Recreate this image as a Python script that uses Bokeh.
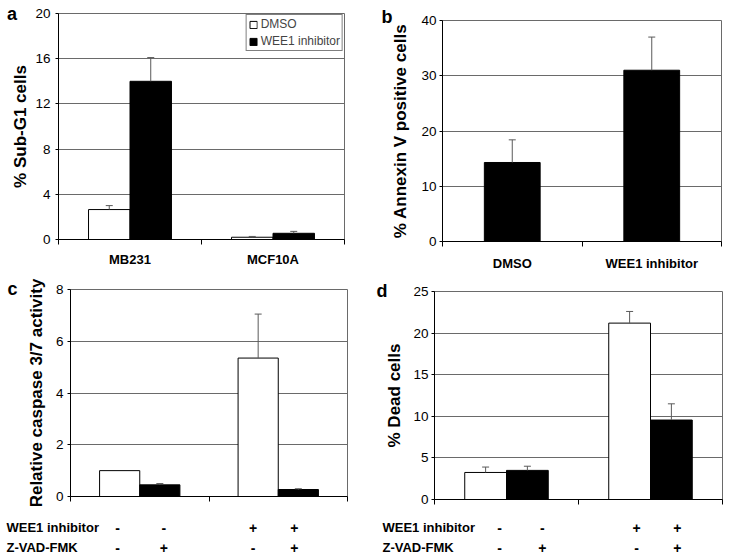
from bokeh.plotting import figure
from bokeh.layouts import column, row
from bokeh.models import FixedTicker, Label, Range1d, Spacer
from bokeh.core.properties import value
from bokeh.embed import file_html
from bokeh.resources import INLINE

# ---------------- data ----------------
a_groups = ["MB231", "MCF10A"]
a_dmso = [2.65, 0.2]
a_dmso_err = [0.35, 0.07]
a_wee1 = [14.0, 0.55]
a_wee1_err = [2.1, 0.17]
a_yticks = [0, 4, 8, 12, 16, 20]

b_groups = ["DMSO", "WEE1 inhibitor"]
b_vals = [14.3, 31.0]
b_err = [4.1, 6.0]
b_yticks = [0, 10, 20, 30, 40]

c_white = [1.0, 5.35]
c_white_err = [0.0, 1.7]
c_black = [0.45, 0.27]
c_black_err = [0.05, 0.03]
c_yticks = [0, 2, 4, 6, 8]

d_white = [3.25, 21.2]
d_white_err = [0.65, 1.4]
d_black = [3.5, 9.55]
d_black_err = [0.5, 1.95]
d_yticks = [0, 5, 10, 15, 20, 25]

row_titles = ["WEE1 inhibitor", "Z-VAD-FMK"]
wee1_signs = ["-", "-", "+", "+"]
zvad_signs = ["-", "+", "-", "+"]

FONT = "Liberation Sans"
GRID = "#6a6a6a"
ERR = "#5a5a5a"


def base_fig(w, h, bl, br, bt, bb, yticks, ylabel, lab_standoff, ax_standoff):
    p = figure(width=w, height=h, output_backend="svg", toolbar_location=None,
               title=None,
               x_range=Range1d(0, 2), y_range=Range1d(0, yticks[-1]),
               min_border_left=bl, min_border_right=br,
               min_border_top=bt, min_border_bottom=bb,
               background_fill_color="white", border_fill_color="white")
    p.outline_line_color = GRID
    p.outline_line_width = 1
    p.xgrid.visible = False
    p.ygrid.ticker = FixedTicker(ticks=yticks)
    p.ygrid.grid_line_color = GRID
    ya = p.yaxis[0]
    ya.ticker = FixedTicker(ticks=yticks, minor_ticks=[])
    ya.axis_line_color = "black"
    ya.major_tick_line_color = "black"
    ya.major_tick_out = 3
    ya.major_tick_in = 0
    ya.minor_tick_out = 0
    ya.minor_tick_in = 0
    ya.major_label_text_font = FONT
    ya.major_label_text_font_size = "13.5px"
    ya.major_label_text_color = "black"
    ya.major_label_standoff = lab_standoff
    ya.axis_label = ylabel
    ya.axis_label_text_font = FONT
    ya.axis_label_text_font_size = "17px"
    ya.axis_label_text_font_style = "bold"
    ya.axis_label_text_color = "black"
    ya.axis_label_standoff = ax_standoff
    xa = p.xaxis[0]
    xa.axis_line_color = "black"
    xa.major_tick_out = 0
    xa.major_tick_in = 0
    xa.minor_tick_out = 5
    xa.minor_tick_in = 0
    xa.minor_tick_line_color = "black"
    xa.major_label_text_font = FONT
    xa.major_label_text_font_size = "13px"
    xa.major_label_text_font_style = "bold"
    xa.major_label_text_color = "black"
    return p


def err_bars(p, xs, vals, errs, cap=7):
    tops = [v + e for v, e in zip(vals, errs)]
    xs2 = [x for x, e in zip(xs, errs) if e > 0]
    v2 = [v for v, e in zip(vals, errs) if e > 0]
    t2 = [t for t, e in zip(tops, errs) if e > 0]
    p.segment(x0=xs2, y0=v2, x1=xs2, y1=t2, line_color=ERR, line_width=1)
    p.scatter(x=xs2, y=t2, marker="dash", size=cap, line_color=ERR, line_width=1)


def letter(p, txt, x, y, side="left", align="left"):
    p.add_layout(Label(x=x, y=y, x_units="screen", y_units="screen", text=txt,
                       text_font=FONT, text_font_size="18px", text_font_style="bold",
                       text_align=align, text_baseline="middle", text_color="black"),
                 side)


BW = 0.29
centers = [0.5, 1.5]
left_x = [c - BW / 2 for c in centers]
right_x = [c + BW / 2 for c in centers]

# ---------------- panel a ----------------
pa = base_fig(365, 270, 58, 21, 13, 31, a_yticks, "% Sub-G1 cells", 5, 2)
pa.xaxis[0].ticker = FixedTicker(ticks=centers, minor_ticks=[0, 1, 2])
pa.xaxis[0].major_label_overrides = {0.5: a_groups[0], 1.5: a_groups[1]}
pa.xaxis[0].major_label_standoff = 7
pa.vbar(x=left_x, top=a_dmso, width=BW, fill_color="white", line_color="black",
        line_width=1, legend_label="DMSO")
pa.vbar(x=right_x, top=a_wee1, width=BW, fill_color="black", line_color="black",
        line_width=1, legend_label="WEE1 inhibitor")
err_bars(pa, left_x, a_dmso, a_dmso_err)
err_bars(pa, right_x, a_wee1, a_wee1_err)
lg = pa.legend[0]
lg.location = "top_right"
lg.margin = 1
lg.padding = 2
lg.spacing = 3
lg.label_height = 14
lg.glyph_width = 9
lg.glyph_height = 9
lg.label_standoff = 3
lg.label_text_font = FONT
lg.label_text_font_size = "12px"
lg.border_line_color = "black"
lg.border_line_width = 1
lg.background_fill_alpha = 1
letter(pa, "a", -332.5, 226, side="right", align="center")

# ---------------- panel b ----------------
pb = base_fig(364, 266, 77, 8, 13, 31, b_yticks, "% Annexin V positive cells", 3, 8)
pb.xaxis[0].ticker = FixedTicker(ticks=centers, minor_ticks=[0, 1, 2])
pb.xaxis[0].major_label_overrides = {0.5: b_groups[0], 1.5: b_groups[1]}
pb.xaxis[0].major_label_standoff = 9
pb.vbar(x=centers, top=b_vals, width=0.4, fill_color="black", line_color="black")
err_bars(pb, centers, b_vals, b_err)
letter(pb, "b", 4, 225)

# ---------------- panel c ----------------
C_W, C_H, C_BL, C_BR = 365, 241, 70, 18
pc = base_fig(C_W, C_H, C_BL, C_BR, 16, 18, c_yticks, "Relative caspase 3/7 activity", 4, 7)
pc.xaxis[0].ticker = FixedTicker(ticks=[], minor_ticks=[0, 1, 2])
pc.vbar(x=left_x, top=c_white, width=BW, fill_color="white", line_color="black")
pc.vbar(x=right_x, top=c_black, width=BW, fill_color="black", line_color="black")
err_bars(pc, left_x, c_white, c_white_err)
err_bars(pc, right_x, c_black, c_black_err)
letter(pc, "c", -6, 208)

# ---------------- panel d ----------------
D_W, D_H, D_BL, D_BR = 364, 242, 69, 7
pd_ = base_fig(D_W, D_H, D_BL, D_BR, 16, 18, d_yticks, "% Dead cells", 3, 6)
pd_.xaxis[0].ticker = FixedTicker(ticks=[], minor_ticks=[0, 1, 2])
pd_.vbar(x=left_x, top=d_white, width=BW, fill_color="white", line_color="black")
pd_.vbar(x=right_x, top=d_black, width=BW, fill_color="black", line_color="black")
err_bars(pd_, left_x, d_white, d_white_err)
err_bars(pd_, right_x, d_black, d_black_err)
letter(pd_, "d", 5, 209)


# ---------------- treatment tables under c and d ----------------
def table_fig(w, bl, br, title_px, dxs):
    fw = w - bl - br
    x0 = -bl * 2.0 / fw
    x1 = 2.0 + br * 2.0 / fw
    t = figure(width=w, height=40, output_backend="svg", toolbar_location=None,
               title=None, x_range=Range1d(x0, x1), y_range=Range1d(0, 2),
               x_axis_location=None, y_axis_location=None,
               min_border=0, outline_line_color=None,
               background_fill_color="white", border_fill_color="white")
    t.grid.visible = False
    tx = x0 + title_px * (x1 - x0) / w
    t.text(x=[tx, tx], y=[1.5, 0.5], text=row_titles, text_font=value(FONT),
           text_font_size="13px", text_font_style="bold", text_color="black",
           text_align="left", text_baseline="middle")
    bar_pos = [left_x[0], right_x[0], left_x[1], right_x[1]]
    t.text(x=bar_pos, y=[1.5] * 4, text=wee1_signs, x_offset=dxs, text_font=value(FONT),
           text_font_size="14px", text_font_style="bold", text_color="black",
           text_align="center", text_baseline="middle")
    t.text(x=bar_pos, y=[0.5] * 4, text=zvad_signs, x_offset=dxs, text_font=value(FONT),
           text_font_size="14px", text_font_style="bold", text_color="black",
           text_align="center", text_baseline="middle")
    return t


tc = table_fig(C_W, C_BL, C_BR, 6, [-2, 4, -5, -4])
td = table_fig(D_W, D_BL, D_BR, 17, [14, 15, 7, 6])

top_row = row(pa, column(Spacer(width=364, height=7), pb))
mid_row = row(pc, column(Spacer(width=364, height=2), pd_))
layout = column(top_row, mid_row, row(tc, td))
open("out.html", "w").write(file_html(layout, INLINE))
